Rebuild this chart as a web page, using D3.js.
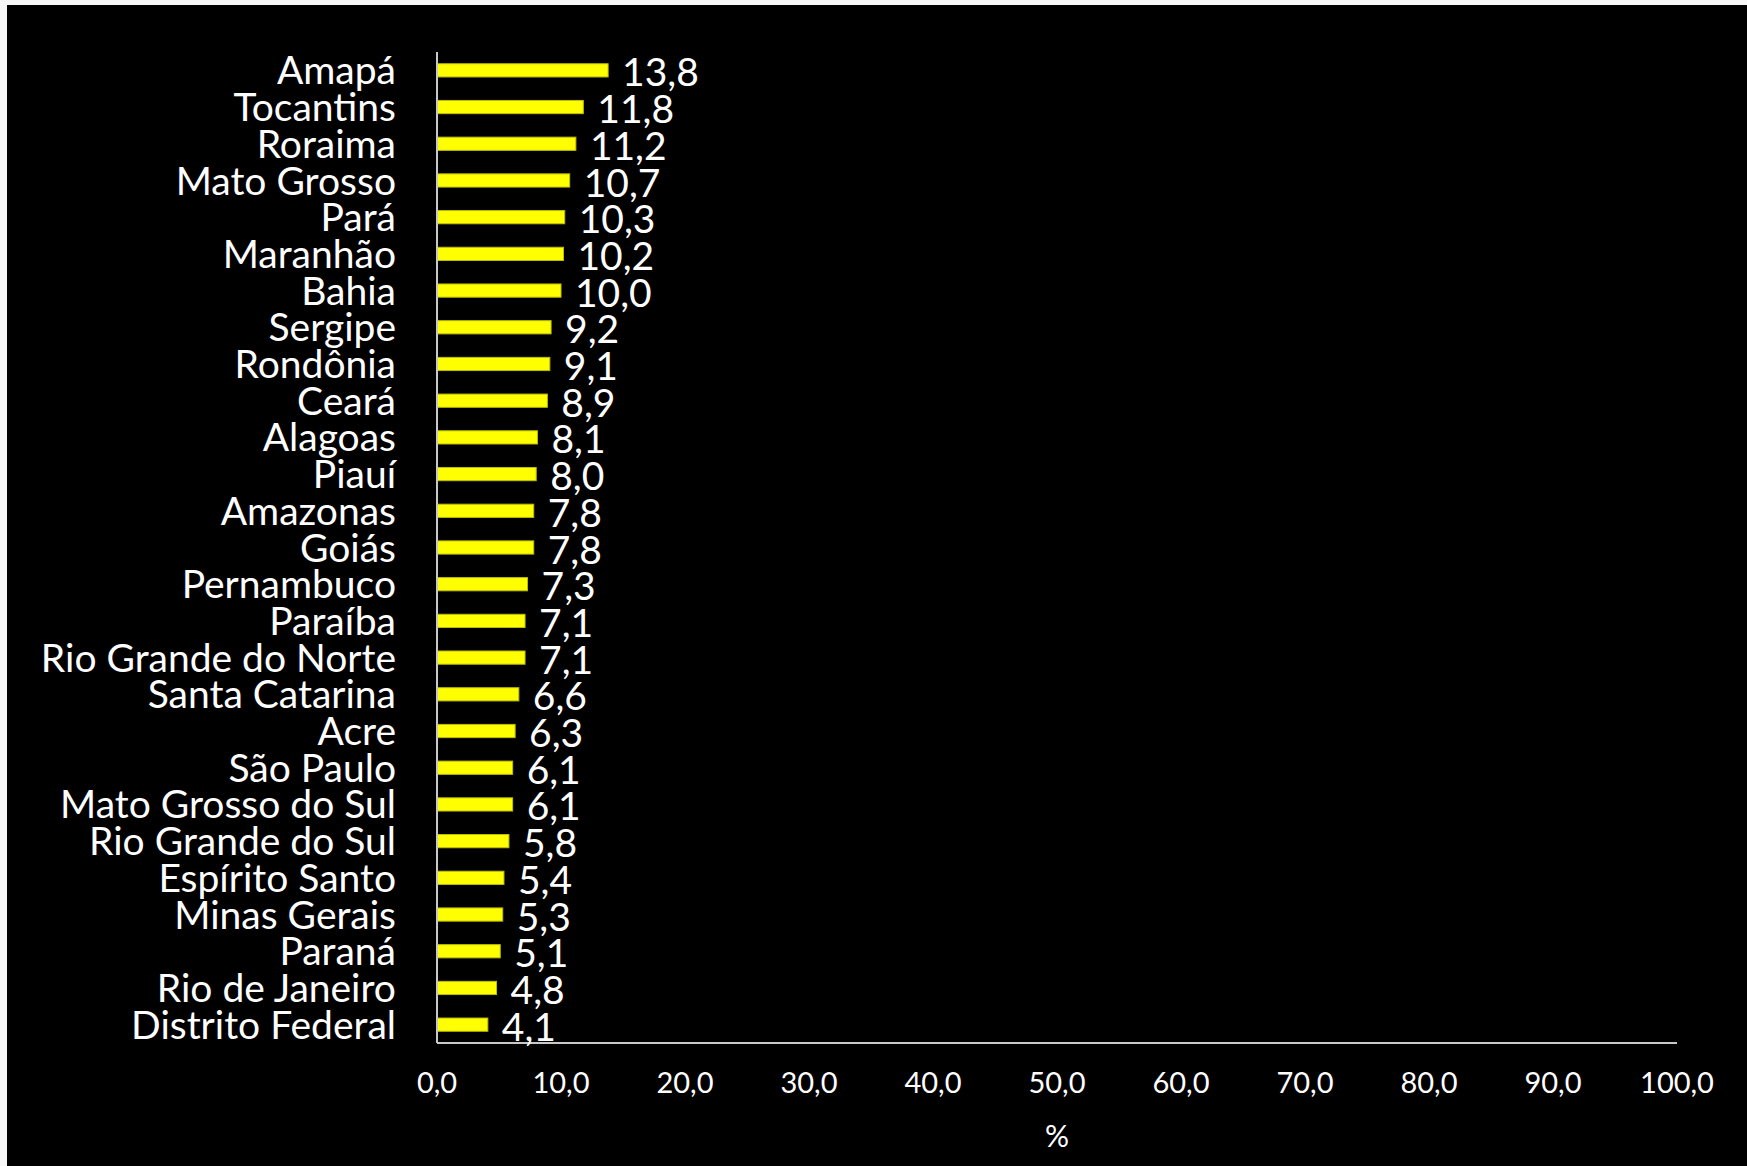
<!DOCTYPE html>
<html>
<head>
<meta charset="utf-8">
<script src="https://cdn.jsdelivr.net/npm/d3@7"></script>
<style>
  html, body { margin: 0; padding: 0; background: #f7f7f7; }
  svg { display: block; }
  text { font-family: Lato, "Open Sans", sans-serif; fill: #ffffff; }
</style>
</head>
<body>
<svg id="chart" width="1747" height="1166"></svg>
<script>
const categories = ["Amapá","Tocantins","Roraima","Mato Grosso","Pará","Maranhão","Bahia","Sergipe","Rondônia","Ceará","Alagoas","Piauí","Amazonas","Goiás","Pernambuco","Paraíba","Rio Grande do Norte","Santa Catarina","Acre","São Paulo","Mato Grosso do Sul","Rio Grande do Sul","Espírito Santo","Minas Gerais","Paraná","Rio de Janeiro","Distrito Federal"];
const values = [13.8,11.8,11.2,10.7,10.3,10.2,10.0,9.2,9.1,8.9,8.1,8.0,7.8,7.8,7.3,7.1,7.1,6.6,6.3,6.1,6.1,5.8,5.4,5.3,5.1,4.8,4.1];
const xTicks = [0,10,20,30,40,50,60,70,80,90,100];
const xAxisTitle = "%";

const W = 1747, H = 1166;
const svg = d3.select("#chart");
const ptBR = d3.formatLocale({decimal: ",", thousands: ".", grouping: [3], currency: ["R$", ""]});
const fmt = ptBR.format(".1f");

// panel
svg.append("rect").attr("x", 0).attr("y", 0).attr("width", W).attr("height", H).attr("fill", "#f7f7f7");
svg.append("rect").attr("x", 7).attr("y", 5).attr("width", W - 7).attr("height", H - 5).attr("fill", "#000000");

const plot = {left: 437, right: 1677, top: 52, bottom: 1043};
const x = d3.scaleLinear().domain([0, 100]).range([plot.left, plot.right]);
const y = d3.scaleBand().domain(categories).range([plot.top, plot.bottom]).paddingInner(0.64).paddingOuter(0.32);

const data = categories.map((c, i) => ({c, v: values[i]}));

// bars
svg.append("g").selectAll("rect").data(data).join("rect")
  .attr("x", x(0))
  .attr("y", d => y(d.c))
  .attr("width", d => x(d.v) - x(0))
  .attr("height", y.bandwidth())
  .attr("fill", "#ffff00")
  .attr("stroke", "#bdbd00")
  .attr("stroke-width", 1);

// axes lines
svg.append("line").attr("x1", plot.left).attr("x2", plot.left).attr("y1", plot.top).attr("y2", plot.bottom)
  .attr("stroke", "#c8c8c8").attr("stroke-width", 2);
svg.append("line").attr("x1", plot.left).attr("x2", plot.right).attr("y1", plot.bottom).attr("y2", plot.bottom)
  .attr("stroke", "#c8c8c8").attr("stroke-width", 2);

// category labels
const catFont = 39;
const catG = svg.append("g");
catG.selectAll("text").data(data).join("text")
  .attr("x", 396)
  .attr("y", d => y(d.c) + y.bandwidth() / 2)
  .attr("dy", "0.36em")
  .attr("text-anchor", "end")
  .style("font-size", catFont + "px")
  .text(d => d.c);

// value labels
svg.append("g").selectAll("text").data(data).join("text")
  .attr("x", d => x(d.v) + 14)
  .attr("y", d => y(d.c) + y.bandwidth() / 2 + 2)
  .attr("dy", "0.36em")
  .attr("text-anchor", "start")
  .style("font-size", catFont + "px")
  .text(d => fmt(d.v));

// x tick labels
svg.append("g").selectAll("text").data(xTicks).join("text")
  .attr("x", d => x(d))
  .attr("y", 1083)
  .attr("dy", "0.36em")
  .attr("text-anchor", "middle")
  .style("font-size", "29px")
  .text(d => fmt(d));

svg.append("text")
  .attr("x", (plot.left + plot.right) / 2)
  .attr("y", 1136)
  .attr("dy", "0.36em")
  .attr("text-anchor", "middle")
  .style("font-size", "30px")
  .text(xAxisTitle);
</script>
</body>
</html>
